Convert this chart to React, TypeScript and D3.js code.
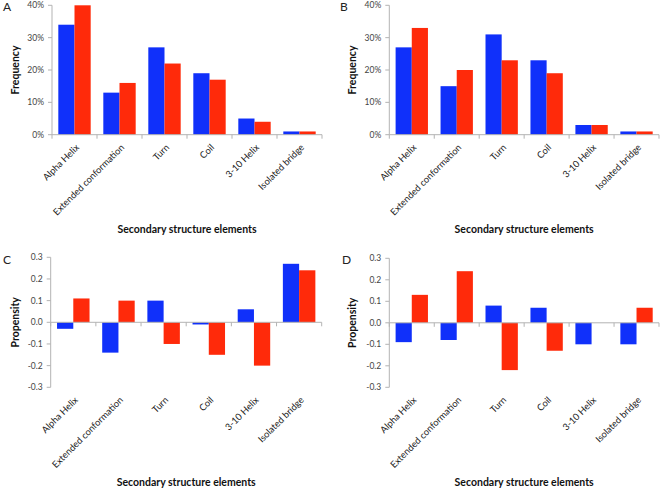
import React from "react";
import * as d3 from "d3";

const categories = ["Alpha Helix", "Extended conformation", "Turn", "Coil", "3-10 Helix", "Isolated bridge"];
const seriesNames = ["blue", "red"];

const freqTicks = [0, 0.1, 0.2, 0.3, 0.4];
const freqTickLabels = ["0%", "10%", "20%", "30%", "40%"];
const propTicks = [-0.3, -0.2, -0.1, 0, 0.1, 0.2, 0.3];
const propTickLabels = ["-0.3", "-0.2", "-0.1", "0.0", "0.1", "0.2", "0.3"];

const aBlue = [0.34, 0.13, 0.27, 0.19, 0.05, 0.01];
const aRed = [0.40, 0.16, 0.22, 0.17, 0.04, 0.01];
const bBlue = [0.27, 0.15, 0.31, 0.23, 0.03, 0.01];
const bRed = [0.33, 0.20, 0.23, 0.19, 0.03, 0.01];
const cBlue = [-0.03, -0.14, 0.10, -0.01, 0.06, 0.27];
const cRed = [0.11, 0.10, -0.10, -0.15, -0.20, 0.24];
const dBlue = [-0.09, -0.08, 0.08, 0.07, -0.10, -0.10];
const dRed = [0.13, 0.24, -0.22, -0.13, 0, 0.07];

const COLORS = ["#1030FA", "#FF2A0A"];
const FONT = "Lato, 'Open Sans', sans-serif";

type PanelProps = {
  letter: string;
  letterX: number;
  letterY: number;
  x0: number;
  x1: number;
  yTop: number;
  yBottom: number;
  domain: [number, number];
  ticks: number[];
  tickLabels: string[];
  blue: number[];
  red: number[];
  yTitle: string;
  yTitleX: number;
  xTitleY: number;
};

function Panel(p: PanelProps) {
  const x = d3.scaleBand<string>().domain(categories).range([p.x0, p.x1]).paddingInner(0).paddingOuter(0);
  const inner = d3.scaleBand<string>().domain(seriesNames).range([0, x.bandwidth()]).paddingInner(0).paddingOuter(0.39);
  const y = d3.scaleLinear().domain(p.domain).range([p.yBottom, p.yTop]);
  const y0 = y(0);
  const data = [p.blue, p.red];
  const boundaries = categories.map((c) => x(c)!).concat([p.x1]);
  const axisColor = "#b3b3b3";
  return (
    <g>
      <text x={p.letterX} y={p.letterY} fontFamily={FONT} fontSize={12} fill="#222">{p.letter}</text>
      {categories.map((c, i) =>
        data.map((s, k) => {
          const v = s[i];
          if (v === 0) return null;
          const bx = x(c)! + inner(seriesNames[k])!;
          const top = Math.min(y(v), y0);
          const h = Math.abs(y(v) - y0);
          return <rect key={c + k} x={bx} y={top} width={inner.bandwidth()} height={h} fill={COLORS[k]} />;
        })
      )}
      <line x1={p.x0} x2={p.x0} y1={p.yTop} y2={p.yBottom} stroke={axisColor} strokeWidth={1} />
      {p.ticks.map((t, i) => (
        <g key={"t" + i}>
          <line x1={p.x0 - 4} x2={p.x0} y1={y(t)} y2={y(t)} stroke={axisColor} strokeWidth={1} />
          <text x={p.x0 - 8} y={y(t)} dy="0.35em" textAnchor="end" fontFamily={FONT} fontSize={8.5} fill="#444">
            {p.tickLabels[i]}
          </text>
        </g>
      ))}
      <line x1={p.x0} x2={p.x1} y1={y0} y2={y0} stroke={axisColor} strokeWidth={1} />
      {boundaries.map((bx, i) => (
        <line key={"b" + i} x1={bx} x2={bx} y1={y0} y2={y0 + 4} stroke={axisColor} strokeWidth={1} />
      ))}
      {categories.map((c) => {
        const cx = x(c)! + x.bandwidth() / 2 + 3;
        const cy = p.yBottom + 11;
        return (
          <text
            key={"l" + c}
            transform={`translate(${cx},${cy}) rotate(-45)`}
            textAnchor="end"
            dy="0.35em"
            fontFamily={FONT}
            fontSize={9.3}
            fill="#222"
          >
            {c}
          </text>
        );
      })}
      <text
        transform={`translate(${p.yTitleX},${(p.yTop + p.yBottom) / 2}) rotate(-90)`}
        textAnchor="middle"
        dy="0.35em"
        fontFamily={FONT}
        fontWeight="bold"
        fontSize={10.5}
        fill="#111"
      >
        {p.yTitle}
      </text>
      <text
        x={(p.x0 + p.x1) / 2}
        y={p.xTitleY}
        textAnchor="middle"
        dy="0.35em"
        fontFamily={FONT}
        fontWeight="bold"
        fontSize={10.5}
        fill="#111"
      >
        Secondary structure elements
      </text>
    </g>
  );
}

export default function App() {
  return (
    <svg width={662} height={490} style={{ position: "absolute", left: 0, top: 0, background: "#fff" }}>
      <rect width={662} height={490} fill="#fff" />
      <Panel letter="A" letterX={3} letterY={11} x0={52} x1={322} yTop={5.3} yBottom={134.7} domain={[0, 0.4]}
        ticks={freqTicks} tickLabels={freqTickLabels} blue={aBlue} red={aRed} yTitle="Frequency" yTitleX={15} xTitleY={229} />
      <Panel letter="B" letterX={340} letterY={11} x0={389.3} x1={659} yTop={5.3} yBottom={134.7} domain={[0, 0.4]}
        ticks={freqTicks} tickLabels={freqTickLabels} blue={bBlue} red={bRed} yTitle="Frequency" yTitleX={352.7} xTitleY={229} />
      <Panel letter="C" letterX={3} letterY={264} x0={50.7} x1={321.7} yTop={257.3} yBottom={387.3} domain={[-0.3, 0.3]}
        ticks={propTicks} tickLabels={propTickLabels} blue={cBlue} red={cRed} yTitle="Propensity" yTitleX={15} xTitleY={482} />
      <Panel letter="D" letterX={342} letterY={264} x0={389.3} x1={659} yTop={258.3} yBottom={387.3} domain={[-0.3, 0.3]}
        ticks={propTicks} tickLabels={propTickLabels} blue={dBlue} red={dRed} yTitle="Propensity" yTitleX={352.7} xTitleY={482} />
    </svg>
  );
}
